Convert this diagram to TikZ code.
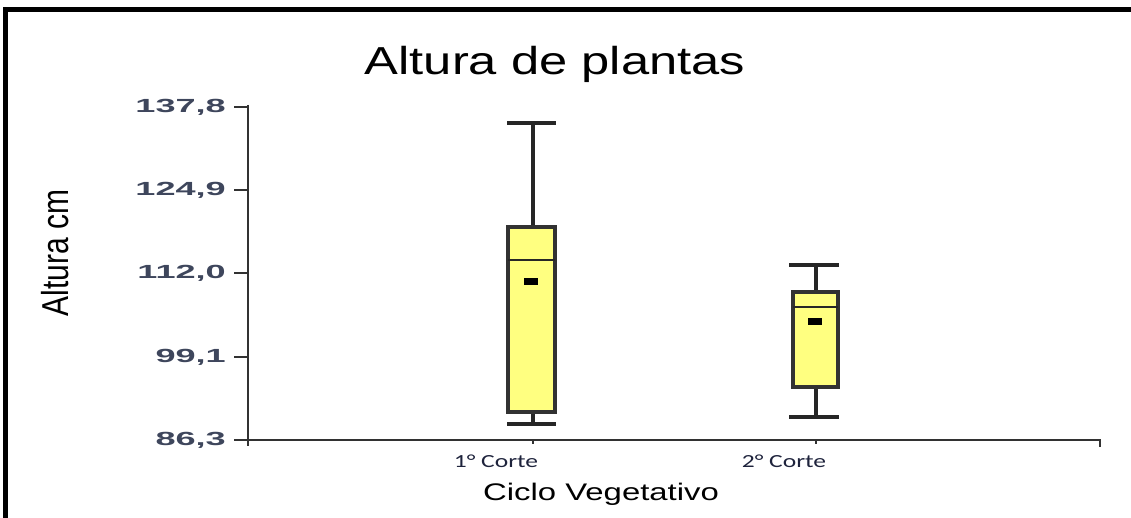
\documentclass[tikz,border=0pt]{standalone}
\usepackage{fontspec}
\setmainfont{Liberation Sans}
\newfontfamily\titlefont[FakeStretch=1.3]{Liberation Sans}
\newfontfamily\xlabfont[FakeStretch=1.37]{Liberation Sans}
\newfontfamily\tickfont[FakeStretch=1.9]{Liberation Sans}
\newfontfamily\catfont[FakeStretch=1.38]{Carlito}
\definecolor{boxfill}{RGB}{255,255,128}
\definecolor{tickcol}{RGB}{62,70,92}
\definecolor{catcol}{RGB}{30,35,60}
\definecolor{axiscol}{RGB}{50,50,50}
\tikzset{
  ticklab/.style={anchor=east, inner sep=0pt, text=tickcol, font=\tickfont\fontsize{19}{19}\selectfont\bfseries},
  catlab/.style={anchor=base, inner sep=0pt, text=catcol, font=\catfont\fontsize{18.5}{18.5}\selectfont},
  axisline/.style={draw=axiscol, line width=2.6pt},
  boxstyle/.style={draw=axiscol, fill=boxfill, line width=3.2pt},
  whisk/.style={draw=black!85, line width=3.4pt},
  meanmark/.style={fill=black}
}
\begin{document}
\begin{tikzpicture}[x=1pt,y=-1pt]
\useasboundingbox (0,0) rectangle (1131,518);
\fill[white] (0,0) rectangle (1131,518);
% frame
\draw[line width=5.5pt, black] (5.5,520) -- (5.5,9.5) -- (1135,9.5);
% title
\node[inner sep=0pt, anchor=base] (title) at (555,75) {\titlefont\fontsize{39}{39}\selectfont Altura de plantas};
% y axis
\draw[axisline] (248,105) -- (248,446);
\draw[axisline] (234,440) -- (1100,440) -- (1100,447);
\foreach \yy/\lab/\nm in {107/137{,}8/ta,190/124{,}9/tb,273/112{,}0/tc,357/99{,}1/td,440/86{,}3/te}{
  \draw[axisline] (234,\yy) -- (248,\yy);
  \node[ticklab] (\nm) at (226,\yy) {\lab};
}
% axis ticks at categories
\draw[axisline, line width=2pt] (533,440) -- (533,444);
\draw[axisline, line width=2pt] (816,440) -- (816,444);
% box 1
\draw[whisk] (533,123) -- (533,227);
\draw[whisk] (533,412) -- (533,424);
\draw[whisk] (507,123) -- (556,123);
\draw[whisk] (507,424) -- (556,424);
\draw[boxstyle] (508,227) rectangle (555,412);
\draw[whisk, line width=2.6pt] (508,260) -- (555,260);
\fill[meanmark] (524,278.5) rectangle (538,285.5);
% box 2
\draw[whisk] (816,265) -- (816,292);
\draw[whisk] (816,387) -- (816,417);
\draw[whisk] (789,265) -- (839,265);
\draw[whisk] (789,417) -- (839,417);
\draw[boxstyle] (793,292) rectangle (838,387);
\draw[whisk, line width=2.6pt] (793,307) -- (838,307);
\fill[meanmark] (808,317.5) rectangle (822,324.5);
% category labels
\node[catlab] (c1) at (496,467) {1° Corte};
\node[catlab] (c2) at (784,467) {2° Corte};
% axis titles
\node[inner sep=0pt, anchor=base] (xlab) at (601,500) {\xlabfont\fontsize{24}{24}\selectfont Ciclo Vegetativo};
\node[inner sep=0pt, rotate=90] (ylab) at (55,253) {\scalebox{1}[1.25]{\fontsize{30}{30}\selectfont Altura cm}};
\end{tikzpicture}
\end{document}
